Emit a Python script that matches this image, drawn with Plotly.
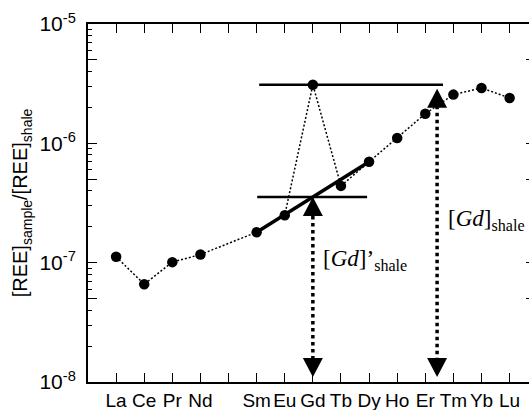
import math
import plotly.graph_objects as go

# ---------------- data ----------------
elements = ["La", "Ce", "Pr", "Nd", "Pm", "Sm", "Eu", "Gd", "Tb", "Dy", "Ho", "Er", "Tm", "Yb", "Lu"]
ree_ratio = [1.12e-7, 6.6e-8, 1.01e-7, 1.17e-7, None, 1.8e-7, 2.5e-7, 3.1e-6,
             4.4e-7, 7.0e-7, 1.11e-6, 1.77e-6, 2.56e-6, 2.91e-6, 2.4e-6]
unlabeled = ["Pm"]
y_tick_vals = [1e-8, 1e-7, 1e-6, 1e-5]
y_tick_text = ["10<sup>-8</sup>", "10<sup>-7</sup>", "10<sup>-6</sup>", "10<sup>-5</sup>"]

# ---------------- derived ----------------
pos = list(range(1, len(elements) + 1))
lab_pos = [p for p, e in zip(pos, elements) if e not in unlabeled]
lab_txt = [e for e in elements if e not in unlabeled]
unlab_pos = [p for p, e in zip(pos, elements) if e in unlabeled]
xs = [p for p, v in zip(pos, ree_ratio) if v is not None]
ys = [v for v in ree_ratio if v is not None]
idx = {e: i for i, e in enumerate(elements)}
x_sm, x_gd, x_dy = pos[idx["Sm"]], pos[idx["Gd"]], pos[idx["Dy"]]
v_sm, v_gd, v_dy = ree_ratio[idx["Sm"]], ree_ratio[idx["Gd"]], ree_ratio[idx["Dy"]]
v_gd_star = 10 ** ((math.log10(v_sm) + math.log10(v_dy)) / 2)

W, H = 529, 410
ML, MR, MT, MB = 88, 0, 24, 28
YR = [-8, -5]
XR = [0, 15.69]
dec_px = (H - MT - MB) / (YR[1] - YR[0])

def shift(v, px):
    return v * 10 ** (px / dec_px)

x_arrow2 = 12.42  # position of the [Gd]shale arrow
bottom = 10 ** YR[0]

major5 = []
minor_vals = []
for e in range(-8, -5):
    for k in range(2, 10):
        (major5 if k == 5 else minor_vals).append(k * 10 ** e)

fig = go.Figure()

dotted = "2px,2px"
# Sm-Dy interpolation line (thick)
fig.add_trace(go.Scatter(x=[x_sm, x_dy], y=[v_sm, v_dy], mode="lines",
                         line=dict(color="black", width=3.5), hoverinfo="skip"))
# horizontal reference lines
fig.add_trace(go.Scatter(x=[6.09, 12.63], y=[v_gd, v_gd], mode="lines",
                         line=dict(color="black", width=2.5), hoverinfo="skip"))
fig.add_trace(go.Scatter(x=[6.02, 9.93], y=[v_gd_star, v_gd_star], mode="lines",
                         line=dict(color="black", width=2.5), hoverinfo="skip"))
# arrow shafts
fig.add_trace(go.Scatter(x=[x_gd, x_gd], y=[shift(v_gd_star, -12), shift(bottom, 20)], mode="lines",
                         line=dict(color="black", width=3.5, dash="dot"), hoverinfo="skip"))
fig.add_trace(go.Scatter(x=[x_arrow2, x_arrow2], y=[shift(v_gd, -14), shift(bottom, 20)], mode="lines",
                         line=dict(color="black", width=3.5, dash="dot"), hoverinfo="skip"))
# data
fig.add_trace(go.Scatter(x=xs, y=ys, mode="lines+markers",
                         line=dict(color="black", width=1.5, dash=dotted),
                         marker=dict(color="black", size=10.5)))
# invisible traces to bind the tick-only overlay axes
fig.add_trace(go.Scatter(x=xs, y=ys, yaxis="y2", mode="markers",
                         marker=dict(opacity=0), hoverinfo="skip"))
fig.add_trace(go.Scatter(x=xs, y=ys, yaxis="y3", mode="markers",
                         marker=dict(opacity=0), hoverinfo="skip"))

def tri(xa, ya, up=True):
    path = "M0,0 L-10,-19 L10,-19 Z" if up else "M0,0 L-10,19 L10,19 Z"
    return dict(type="path", xref="x", yref="y", xsizemode="pixel", ysizemode="pixel",
                xanchor=xa, yanchor=ya, path=path, fillcolor="black",
                line=dict(color="black", width=0), layer="above")

fig.update_layout(shapes=[
    tri(x_gd, v_gd_star, True),
    tri(x_gd, shift(bottom, 5), False),
    tri(x_arrow2, shift(v_gd, -4), True),
    tri(x_arrow2, shift(bottom, 5), False),
])

serif = "Liberation Serif"
fig.add_annotation(x=8.30, y=-6.975, xref="x", yref="y", xanchor="left", yanchor="middle",
                   text="[<i>Gd</i>]’<sub>shale</sub>", showarrow=False,
                   font=dict(family=serif, size=23, color="black"))
fig.add_annotation(x=12.72, y=-6.64, xref="x", yref="y", xanchor="left", yanchor="middle",
                   text="[<i>Gd</i>]<sub>shale</sub>", showarrow=False,
                   font=dict(family=serif, size=23, color="black"))

sans = "Liberation Sans"
fig.update_layout(
    width=W, height=H,
    margin=dict(l=ML, r=MR, t=MT, b=MB, pad=0),
    paper_bgcolor="white", plot_bgcolor="white",
    showlegend=False,
    font=dict(family=sans, color="black"),
    xaxis=dict(range=XR, tickmode="array", tickvals=lab_pos, ticktext=lab_txt,
               ticks="inside", ticklen=9, tickwidth=1, tickcolor="black",
               minor=dict(tickmode="array", tickvals=unlab_pos, ticks="inside",
                          ticklen=9, tickwidth=1, tickcolor="black", showgrid=False),
               showline=True, linewidth=2, linecolor="black", mirror="ticks",
               showgrid=False, zeroline=False, tickangle=0, automargin=False,
               tickfont=dict(family=sans, size=19, color="black")),
    yaxis=dict(type="log", range=YR, tickmode="array",
               tickvals=y_tick_vals, ticktext=y_tick_text,
               ticks="inside", ticklen=9, tickwidth=1, tickcolor="black",
               minor=dict(tickmode="array", tickvals=minor_vals, ticks="inside",
                          ticklen=4, tickwidth=1, tickcolor="black", showgrid=False),
               showline=True, linewidth=2, linecolor="black", automargin=False,
               showgrid=False, zeroline=False, ticklabelstandoff=6,
               tickfont=dict(family=sans, size=21, color="black"),
               title=dict(text="[REE]<sub>sample</sub>/[REE]<sub>shale</sub>",
                          font=dict(family=sans, size=20, color="black"), standoff=6)),
    yaxis2=dict(type="log", range=YR, overlaying="y", side="right", anchor="free", position=1,
                tickmode="array", tickvals=y_tick_vals + major5, ticks="inside", ticklen=3,
                tickcolor="black", showticklabels=False, showline=False, showgrid=False,
                zeroline=False, automargin=False),
    yaxis3=dict(type="log", range=YR, overlaying="y", side="left", anchor="x",
                tickmode="array", tickvals=major5, ticks="inside", ticklen=9, tickwidth=1,
                tickcolor="black", showticklabels=False, showline=False, showgrid=False,
                zeroline=False, automargin=False),
)

fig.write_html("out.html")
